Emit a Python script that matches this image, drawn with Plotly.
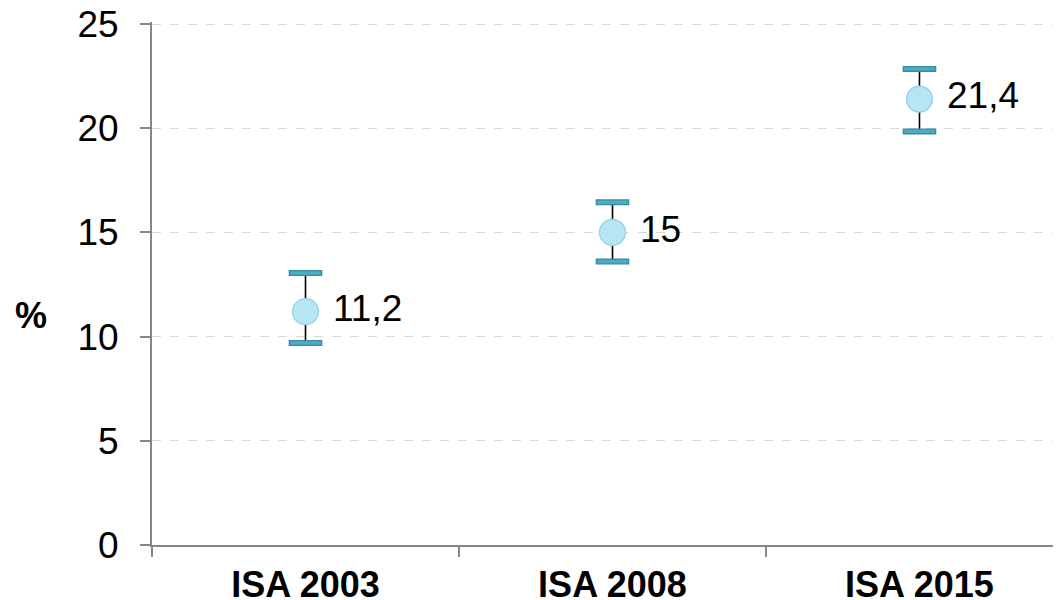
import plotly.graph_objects as go

categories = ["ISA 2003", "ISA 2008", "ISA 2015"]
values = [11.2, 15.0, 21.4]
ci_low = [9.7, 13.6, 19.85]
ci_high = [13.05, 16.45, 22.85]
y_ticks = [0, 5, 10, 15, 20, 25]
y_label = "%"

def fmt(v):
    s = ("%g" % v)
    return s.replace(".", ",")

labels = [" " + fmt(v) for v in values]
err_plus = [h - v for h, v in zip(ci_high, values)]
err_minus = [v - l for l, v in zip(ci_low, values)]

FONT = "Liberation Sans, Arial, sans-serif"

fig = go.Figure()

# error stems
fig.add_trace(go.Scatter(
    x=categories, y=values, mode="markers",
    marker=dict(size=1, color="rgba(0,0,0,0)"),
    error_y=dict(type="data", symmetric=False, array=err_plus, arrayminus=err_minus,
                 color="#000000", thickness=1.6, width=0),
    hoverinfo="skip", showlegend=False,
))

# caps (outline then fill)
for ys in (ci_high, ci_low):
    fig.add_trace(go.Scatter(
        x=categories, y=ys, mode="markers",
        marker=dict(symbol="line-ew", size=24, line=dict(color="#3a8aa0", width=6)),
        hoverinfo="skip", showlegend=False,
    ))
    fig.add_trace(go.Scatter(
        x=categories, y=ys, mode="markers",
        marker=dict(symbol="line-ew", size=22, line=dict(color="#4bacc6", width=3.5)),
        hoverinfo="skip", showlegend=False,
    ))

# points
fig.add_trace(go.Scatter(
    x=categories, y=values, mode="markers+text",
    marker=dict(size=26, color="#b6e5f4", line=dict(color="#93cfe3", width=1.2)),
    text=labels, textposition="middle right",
    textfont=dict(family=FONT, size=37, color="#000000"),
    showlegend=False,
))

y_top = y_ticks[-1] + 0.1

fig.update_layout(
    width=1061, height=600,
    margin=dict(l=144, r=8, t=14, b=63),
    paper_bgcolor="white", plot_bgcolor="white",
    font=dict(family=FONT, color="#000000"),
    separators=",.",
    annotations=[dict(text="<b>%s</b>" % y_label, xref="paper", yref="paper",
                      x=-0.1326, y=0.438, xanchor="center", yanchor="middle",
                      showarrow=False, font=dict(family=FONT, size=36, color="#000000"))],
)

fig.update_xaxes(
    type="category", range=[-0.5, 2.461], automargin=False,
    showline=True, linecolor="#868686", linewidth=2,
    ticks="outside", tickson="boundaries", ticklen=10, tickcolor="#868686", tickwidth=2,
    showgrid=False, tickfont=dict(family=FONT, size=36, color="#000000", weight="bold"),
    ticklabelstandoff=7, zeroline=False, ticklabeloverflow="allow",
)
fig.update_yaxes(
    range=[0, y_top], tickvals=y_ticks, automargin=False,
    showline=True, linecolor="#868686", linewidth=2,
    ticks="outside", ticklen=10, tickcolor="#868686", tickwidth=2,
    showgrid=True, gridcolor="#d9d9d9", griddash="dash", gridwidth=1,
    zeroline=False, tickfont=dict(family=FONT, size=37, color="#000000"),
    ticklabelstandoff=14, ticklabeloverflow="allow",
)

fig.write_html("out.html")
